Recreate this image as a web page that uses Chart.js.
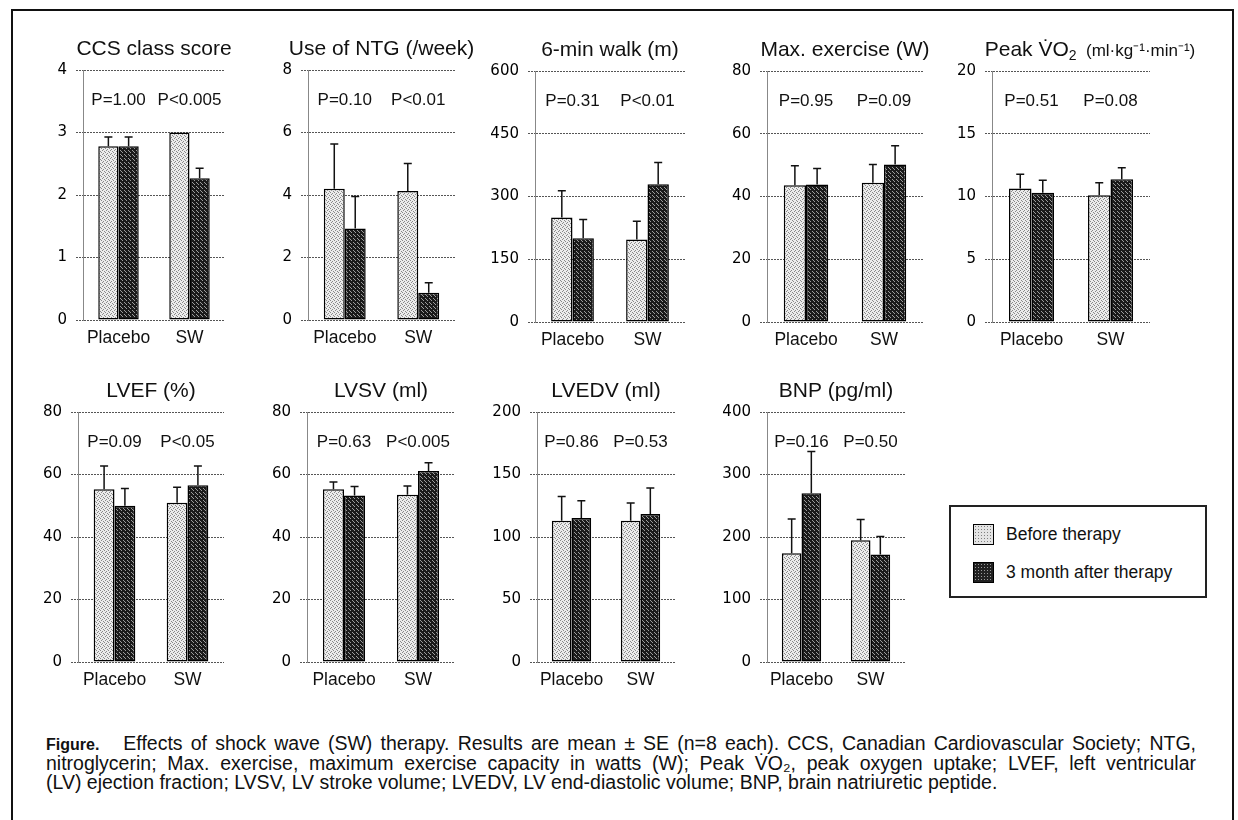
<!DOCTYPE html>
<html>
<head>
<meta charset="utf-8">
<script src="https://cdn.jsdelivr.net/npm/chart.js@4.4.1/dist/chart.umd.min.js"></script>
<style>
  body { margin: 0; width: 1238px; height: 820px; overflow: hidden; background: #fff;
         font-family: "Liberation Sans", Arial, sans-serif; color: #111; }
  #frame { position: absolute; left: 11px; top: 9px; width: 1219px; height: 830px; border: 2px solid #111; }
  .panel { position: absolute; }
  #legend { position: absolute; left: 949px; top: 505px; width: 258px; height: 93px;
            border: 2px solid #222; box-sizing: border-box; }
  .item { position: absolute; left: 22px; font-size: 17.5px; display: flex; align-items: center; }
  .sw { width: 19px; height: 19px; border: 1px solid #000; margin-right: 12px; }
  .sw.before { background-color: #e4e4e4; background-image: radial-gradient(#808080 35%, transparent 45%); background-size: 3px 3px; }
  .sw.after { background-color: #222; background-image: radial-gradient(#9a9a9a 35%, transparent 45%); background-size: 3px 3px; }
  #caption { position: absolute; left: 46px; top: 734px; width: 1150px; font-size: 19.5px; line-height: 19px; }
  #caption div { white-space: nowrap; }
  #caption .just { text-align: justify; text-align-last: justify; white-space: normal; }
  #caption b { font-size: 16px; margin-right: 24px; }
</style>
</head>
<body>
<div id="frame"></div>
<div id="legend">
  <div class="item" style="top:17px"><span class="sw before"></span>Before therapy</div>
  <div class="item" style="top:55px"><span class="sw after"></span>3 month after therapy</div>
</div>
<div id="caption">
  <div class="just"><b>Figure.</b>Effects of shock wave (SW) therapy. Results are mean ± SE (n=8 each). CCS, Canadian Cardiovascular Society; NTG,</div>
  <div class="just">nitroglycerin; Max. exercise, maximum exercise capacity in watts (W); Peak V̇O₂, peak oxygen uptake; LVEF, left ventricular</div>
  <div>(LV) ejection fraction; LVSV, LV stroke volume; LVEDV, LV end-diastolic volume; BNP, brain natriuretic peptide.</div>
</div>
<script>
// groups and series
const groups = ['Placebo', 'SW'];
const seriesLabels = ['Before therapy', '3 month after therapy'];

// values (mean, and SE above the mean)
const ccsBefore = [2.78, 3.0],    ccsBeforeSE = [0.15, 0];
const ccsAfter = [2.78, 2.27],    ccsAfterSE = [0.15, 0.16];
const ntgBefore = [4.2, 4.13],    ntgBeforeSE = [1.43, 0.88];
const ntgAfter = [2.93, 0.87],    ntgAfterSE = [1.02, 0.32];
const walkBefore = [250, 197],    walkBeforeSE = [64, 44];
const walkAfter = [200, 329],     walkAfterSE = [45, 52];
const exBefore = [43.6, 44.4],    exBeforeSE = [6.2, 5.8];
const exAfter = [43.8, 50.2],     exAfterSE = [5.1, 6.0];
const vo2Before = [10.64, 10.1],  vo2BeforeSE = [1.14, 1.0];
const vo2After = [10.29, 11.38],  vo2AfterSE = [1.0, 0.91];
const lvefBefore = [55.3, 51.0],  lvefBeforeSE = [7.4, 4.9];
const lvefAfter = [50.0, 56.6],   lvefAfterSE = [5.5, 6.1];
const lvsvBefore = [55.3, 53.5],  lvsvBeforeSE = [2.3, 2.8];
const lvsvAfter = [53.3, 61.1],   lvsvAfterSE = [2.9, 2.7];
const lvedvBefore = [113, 113],   lvedvBeforeSE = [19.5, 14.2];
const lvedvAfter = [115.2, 118.4], lvedvAfterSE = [13.8, 20.8];
const bnpBefore = [174, 195],     bnpBeforeSE = [55, 33];
const bnpAfter = [270, 172],      bnpAfterSE = [67, 29];

// p-values over each group
const ccsP = ['P=1.00', 'P<0.005'];
const ntgP = ['P=0.10', 'P<0.01'];
const walkP = ['P=0.31', 'P<0.01'];
const exP = ['P=0.95', 'P=0.09'];
const vo2P = ['P=0.51', 'P=0.08'];
const lvefP = ['P=0.09', 'P<0.05'];
const lvsvP = ['P=0.63', 'P<0.005'];
const lvedvP = ['P=0.86', 'P=0.53'];
const bnpP = ['P=0.16', 'P=0.50'];

// y axis ranges [max, step]
const ccsAxis = [4, 1], ntgAxis = [8, 2], walkAxis = [600, 150], exAxis = [80, 20], vo2Axis = [20, 5];
const lvefAxis = [80, 20], lvsvAxis = [80, 20], lvedvAxis = [200, 50], bnpAxis = [400, 100];

const FONT = '"Liberation Sans", Arial, sans-serif';

function stipple(bg, dot, dots) {
    const c = document.createElement('canvas');
    c.width = 4; c.height = 4;
    const g = c.getContext('2d');
    g.fillStyle = bg; g.fillRect(0, 0, 4, 4);
    g.fillStyle = dot;
    dots.forEach(d => g.fillRect(d[0], d[1], 1, 1));
    return g.createPattern(c, 'repeat');
}
const beforeFill = stipple('#ececec', '#8a8a8a', [[0, 0], [2, 1], [1, 2], [3, 3]]);
const afterFill = stipple('#1a1a1a', '#9c9c9c', [[1, 0], [3, 2], [0, 3]]);

// upward SE whiskers with a small cap
const errorBars = {
    id: 'errorBars',
    afterDatasetsDraw(chart) {
        const ctx = chart.ctx, y = chart.scales.y;
        ctx.save();
        ctx.strokeStyle = '#111';
        ctx.lineWidth = 1.5;
        chart.data.datasets.forEach((ds, di) => {
            const meta = chart.getDatasetMeta(di);
            ds.se.forEach((e, i) => {
                if (!e) return;
                const bar = meta.data[i];
                const yt = y.getPixelForValue(ds.data[i] + e);
                ctx.beginPath();
                ctx.moveTo(bar.x, bar.y);
                ctx.lineTo(bar.x, yt);
                ctx.moveTo(bar.x - 4, yt);
                ctx.lineTo(bar.x + 4, yt);
                ctx.stroke();
            });
        });
        ctx.restore();
    }
};

// panel title (may have several pieces in different sizes) + P values
const panelText = {
    id: 'panelText',
    afterDraw(chart, args, opts) {
        const ctx = chart.ctx, area = chart.chartArea;
        ctx.save();
        ctx.fillStyle = '#111';
        ctx.textBaseline = 'alphabetic';
        // title
        let total = 0;
        opts.title.forEach(s => { ctx.font = s[1] + 'px ' + FONT; total += ctx.measureText(s[0]).width; });
        let x = (area.left + area.right) / 2 - total / 2 + (opts.shift || 0);
        const base = area.top - opts.titleGap;
        ctx.textAlign = 'left';
        opts.title.forEach(s => {
            ctx.font = s[1] + 'px ' + FONT;
            ctx.fillText(s[0], x, base + (s[2] || 0));
            x += ctx.measureText(s[0]).width;
        });
        // P values
        ctx.font = '17px ' + FONT;
        ctx.textAlign = 'center';
        ctx.textBaseline = 'middle';
        opts.p.forEach((t, i) => {
            ctx.fillText(t, chart.scales.x.getPixelForValue(i), area.top + opts.pGap);
        });
        ctx.restore();
    }
};

function drawPanel(title, before, beforeSE, after, afterSE, pText, axis, box, shift) {
    // box = [plot left, plot right, plot top, plot bottom] in page pixels
    const left = box[0] - 50, width = box[1] - box[0] + 110;
    const top = box[2] - 34, height = box[3] - top + 30;
    const div = document.createElement('div');
    div.className = 'panel';
    div.style.left = left + 'px';
    div.style.top = top + 'px';
    const canvas = document.createElement('canvas');
    canvas.width = width;
    canvas.height = height;
    div.appendChild(canvas);
    document.body.appendChild(div);

    new Chart(canvas, {
        type: 'bar',
        data: {
            labels: groups,
            datasets: [
                { label: seriesLabels[0], data: before, se: beforeSE, backgroundColor: beforeFill,
                  borderColor: '#000', borderWidth: 1.5, borderSkipped: false },
                { label: seriesLabels[1], data: after, se: afterSE, backgroundColor: afterFill,
                  borderColor: '#000', borderWidth: 1.5, borderSkipped: false }
            ]
        },
        options: {
            responsive: false,
            animation: false,
            categoryPercentage: 0.57,
            barPercentage: 1.0,
            layout: { padding: { left: 0, right: 60, top: 34, bottom: 0 } },
            plugins: {
                legend: { display: false },
                tooltip: { enabled: false },
                title: { display: false },
                panelText: { title: title, shift: shift, titleGap: 15, p: pText, pGap: 30 }
            },
            scales: {
                x: {
                    grid: { display: false, drawTicks: false },
                    border: { display: false },
                    ticks: { color: '#111', font: { family: FONT, size: 17.5 }, padding: 8,
                             maxRotation: 0, minRotation: 0, autoSkip: false },
                    afterFit(s) { s.height = 30; }
                },
                y: {
                    min: 0,
                    max: axis[0],
                    ticks: { stepSize: axis[1], color: '#000', padding: 9,
                             font: { family: '"DejaVu Sans", sans-serif', size: 15 } },
                    grid: { color: '#555', lineWidth: 1, tickLength: 7, tickBorderDash: [2, 1], tickColor: '#555' },
                    border: { display: true, color: '#888', width: 1, dash: [2, 1] },
                    afterFit(s) { s.width = 50; }
                }
            }
        },
        plugins: [errorBars, panelText]
    });
}

drawPanel([['CCS class score', 21]], ccsBefore, ccsBeforeSE, ccsAfter, ccsAfterSE, ccsP, ccsAxis, [83, 225, 70, 320]);
drawPanel([['Use of NTG (/week)', 21]], ntgBefore, ntgBeforeSE, ntgAfter, ntgAfterSE, ntgP, ntgAxis, [308, 455, 70, 320]);
drawPanel([['6-min walk (m)', 21]], walkBefore, walkBeforeSE, walkAfter, walkAfterSE, walkP, walkAxis, [535, 685, 71, 322]);
drawPanel([['Max. exercise (W)', 21]], exBefore, exBeforeSE, exAfter, exAfterSE, exP, exAxis, [767, 923, 71, 322]);
drawPanel([['Peak V̇O', 21], ['2', 14, 4], ['  (ml·kg⁻¹·min⁻¹)', 17]], vo2Before, vo2BeforeSE, vo2After, vo2AfterSE, vo2P, vo2Axis, [992, 1150, 71, 322], 19);
drawPanel([['LVEF (%)', 21]], lvefBefore, lvefBeforeSE, lvefAfter, lvefAfterSE, lvefP, lvefAxis, [78, 224, 412, 662]);
drawPanel([['LVSV (ml)', 21]], lvsvBefore, lvsvBeforeSE, lvsvAfter, lvsvAfterSE, lvsvP, lvsvAxis, [307, 455, 412, 662]);
drawPanel([['LVEDV (ml)', 21]], lvedvBefore, lvedvBeforeSE, lvedvAfter, lvedvAfterSE, lvedvP, lvedvAxis, [537, 675, 412, 662]);
drawPanel([['BNP (pg/ml)', 21]], bnpBefore, bnpBeforeSE, bnpAfter, bnpAfterSE, bnpP, bnpAxis, [767, 905, 412, 662]);
</script>
</body>
</html>
